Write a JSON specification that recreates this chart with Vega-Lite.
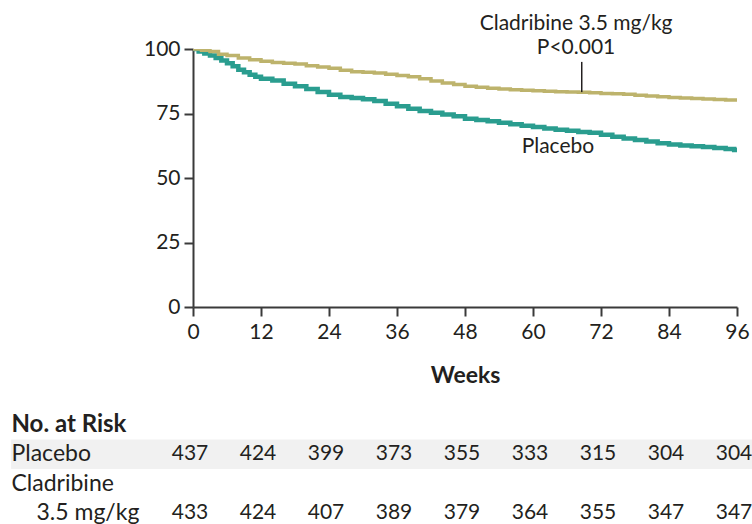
{
  "$schema": "https://vega.github.io/schema/vega-lite/v6.json",
  "background": "white",
  "padding": {"left": 11, "top": 13, "right": 0, "bottom": 0},
  "bounds": "flush",
  "spacing": 103,
  "config": {"font": "Lato", "view": {"stroke": null}},
  "datasets": {
    "curves": [
      {"group": "Placebo", "week": 0, "surv": 100},
      {"group": "Placebo", "week": 1, "surv": 99},
      {"group": "Placebo", "week": 2, "surv": 98.3},
      {"group": "Placebo", "week": 3, "surv": 97.5},
      {"group": "Placebo", "week": 4, "surv": 96.5},
      {"group": "Placebo", "week": 5, "surv": 95.5},
      {"group": "Placebo", "week": 6, "surv": 94.5},
      {"group": "Placebo", "week": 7, "surv": 93.3},
      {"group": "Placebo", "week": 8, "surv": 92},
      {"group": "Placebo", "week": 9, "surv": 91},
      {"group": "Placebo", "week": 10, "surv": 90},
      {"group": "Placebo", "week": 11, "surv": 89.2},
      {"group": "Placebo", "week": 12, "surv": 88.5},
      {"group": "Placebo", "week": 14, "surv": 87.8},
      {"group": "Placebo", "week": 16, "surv": 86.5},
      {"group": "Placebo", "week": 18, "surv": 85.6},
      {"group": "Placebo", "week": 20, "surv": 84.5},
      {"group": "Placebo", "week": 22, "surv": 83.3},
      {"group": "Placebo", "week": 24, "surv": 82.3},
      {"group": "Placebo", "week": 26, "surv": 81.4},
      {"group": "Placebo", "week": 28, "surv": 81},
      {"group": "Placebo", "week": 30, "surv": 80.5},
      {"group": "Placebo", "week": 32, "surv": 79.8},
      {"group": "Placebo", "week": 34, "surv": 78.8},
      {"group": "Placebo", "week": 36, "surv": 77.8},
      {"group": "Placebo", "week": 38, "surv": 76.8},
      {"group": "Placebo", "week": 40, "surv": 76},
      {"group": "Placebo", "week": 42, "surv": 75.3},
      {"group": "Placebo", "week": 44, "surv": 74.6},
      {"group": "Placebo", "week": 46, "surv": 73.9},
      {"group": "Placebo", "week": 48, "surv": 73},
      {"group": "Placebo", "week": 50, "surv": 72.5},
      {"group": "Placebo", "week": 52, "surv": 72},
      {"group": "Placebo", "week": 54, "surv": 71.4},
      {"group": "Placebo", "week": 56, "surv": 70.8},
      {"group": "Placebo", "week": 58, "surv": 70.3},
      {"group": "Placebo", "week": 60, "surv": 69.8},
      {"group": "Placebo", "week": 62, "surv": 69.2},
      {"group": "Placebo", "week": 64, "surv": 68.7},
      {"group": "Placebo", "week": 66, "surv": 68.3},
      {"group": "Placebo", "week": 68, "surv": 67.8},
      {"group": "Placebo", "week": 70, "surv": 67.5},
      {"group": "Placebo", "week": 72, "surv": 66.8},
      {"group": "Placebo", "week": 74, "surv": 66},
      {"group": "Placebo", "week": 76, "surv": 65.3},
      {"group": "Placebo", "week": 78, "surv": 64.7},
      {"group": "Placebo", "week": 80, "surv": 64.1},
      {"group": "Placebo", "week": 82, "surv": 63.5},
      {"group": "Placebo", "week": 84, "surv": 63},
      {"group": "Placebo", "week": 86, "surv": 62.6},
      {"group": "Placebo", "week": 88, "surv": 62.3},
      {"group": "Placebo", "week": 90, "surv": 62},
      {"group": "Placebo", "week": 92, "surv": 61.6},
      {"group": "Placebo", "week": 94, "surv": 61.2},
      {"group": "Placebo", "week": 95.5, "surv": 60.9},
      {"group": "Placebo", "week": 96, "surv": 60.9},
      {"group": "Cladribine", "week": 0, "surv": 100},
      {"group": "Cladribine", "week": 1.5, "surv": 99.5},
      {"group": "Cladribine", "week": 3, "surv": 99},
      {"group": "Cladribine", "week": 4.5, "surv": 98},
      {"group": "Cladribine", "week": 6, "surv": 97.5},
      {"group": "Cladribine", "week": 8, "surv": 96.5},
      {"group": "Cladribine", "week": 10, "surv": 95.8},
      {"group": "Cladribine", "week": 12, "surv": 95.3},
      {"group": "Cladribine", "week": 14, "surv": 94.8},
      {"group": "Cladribine", "week": 16, "surv": 94.5},
      {"group": "Cladribine", "week": 18, "surv": 94.2},
      {"group": "Cladribine", "week": 20, "surv": 93.5},
      {"group": "Cladribine", "week": 22, "surv": 93},
      {"group": "Cladribine", "week": 24, "surv": 92.5},
      {"group": "Cladribine", "week": 26, "surv": 91.8},
      {"group": "Cladribine", "week": 28, "surv": 91.2},
      {"group": "Cladribine", "week": 30, "surv": 91},
      {"group": "Cladribine", "week": 32, "surv": 90.7},
      {"group": "Cladribine", "week": 34, "surv": 90.2},
      {"group": "Cladribine", "week": 36, "surv": 89.7},
      {"group": "Cladribine", "week": 38, "surv": 89.2},
      {"group": "Cladribine", "week": 40, "surv": 88.5},
      {"group": "Cladribine", "week": 42, "surv": 87.6},
      {"group": "Cladribine", "week": 44, "surv": 86.8},
      {"group": "Cladribine", "week": 46, "surv": 86.2},
      {"group": "Cladribine", "week": 48, "surv": 85.6},
      {"group": "Cladribine", "week": 50, "surv": 85.2},
      {"group": "Cladribine", "week": 52, "surv": 84.8},
      {"group": "Cladribine", "week": 54, "surv": 84.5},
      {"group": "Cladribine", "week": 56, "surv": 84.2},
      {"group": "Cladribine", "week": 58, "surv": 84},
      {"group": "Cladribine", "week": 60, "surv": 83.8},
      {"group": "Cladribine", "week": 62, "surv": 83.6},
      {"group": "Cladribine", "week": 64, "surv": 83.4},
      {"group": "Cladribine", "week": 66, "surv": 83.3},
      {"group": "Cladribine", "week": 68, "surv": 83.2},
      {"group": "Cladribine", "week": 70, "surv": 83},
      {"group": "Cladribine", "week": 72, "surv": 82.8},
      {"group": "Cladribine", "week": 74, "surv": 82.7},
      {"group": "Cladribine", "week": 76, "surv": 82.5},
      {"group": "Cladribine", "week": 78, "surv": 82.1},
      {"group": "Cladribine", "week": 80, "surv": 81.8},
      {"group": "Cladribine", "week": 82, "surv": 81.5},
      {"group": "Cladribine", "week": 84, "surv": 81.2},
      {"group": "Cladribine", "week": 86, "surv": 81},
      {"group": "Cladribine", "week": 88, "surv": 80.8},
      {"group": "Cladribine", "week": 90, "surv": 80.6},
      {"group": "Cladribine", "week": 92, "surv": 80.4},
      {"group": "Cladribine", "week": 94, "surv": 80.2},
      {"group": "Cladribine", "week": 96, "surv": 80.2}
    ],
    "labels": [
      {"label": "Cladribine 3.5 mg/kg", "week": 67.6, "surv": 109.6},
      {"label": "P<0.001", "week": 67.6, "surv": 100.4},
      {"label": "Placebo", "week": 64.4, "surv": 62}
    ],
    "leader": [
      {"week": 68.6, "top": 95, "bottom": 83.3}
    ],
    "risk": [
      {"row": "Placebo", "week": 0, "n": 437},
      {"row": "Placebo", "week": 12, "n": 424},
      {"row": "Placebo", "week": 24, "n": 399},
      {"row": "Placebo", "week": 36, "n": 373},
      {"row": "Placebo", "week": 48, "n": 355},
      {"row": "Placebo", "week": 60, "n": 333},
      {"row": "Placebo", "week": 72, "n": 315},
      {"row": "Placebo", "week": 84, "n": 304},
      {"row": "Placebo", "week": 96, "n": 304},
      {"row": "3.5 mg/kg", "week": 0, "n": 433},
      {"row": "3.5 mg/kg", "week": 12, "n": 424},
      {"row": "3.5 mg/kg", "week": 24, "n": 407},
      {"row": "3.5 mg/kg", "week": 36, "n": 389},
      {"row": "3.5 mg/kg", "week": 48, "n": 379},
      {"row": "3.5 mg/kg", "week": 60, "n": 364},
      {"row": "3.5 mg/kg", "week": 72, "n": 355},
      {"row": "3.5 mg/kg", "week": 84, "n": 347},
      {"row": "3.5 mg/kg", "week": 96, "n": 347}
    ],
    "band": [
      {"row": "Placebo", "from": -32.1, "to": 98.65}
    ]
  },
  "vconcat": [
    {
      "width": 544,
      "height": 258,
      "encoding": {
        "x": {
          "field": "week", "type": "quantitative",
          "scale": {"domain": [0, 96], "nice": false, "zero": false},
          "axis": {
            "values": [0, 12, 24, 36, 48, 60, 72, 84, 96],
            "title": "Weeks", "titleFontSize": 23, "titleFontWeight": "bold", "titleColor": "#231f20", "titlePadding": 22,
            "labelFontSize": 21, "labelColor": "#231f20", "labelPadding": 5, "labelFlush": false, "labelOverlap": false,
            "tickSize": 9, "tickWidth": 2, "tickColor": "#3a3a3a",
            "domainColor": "#3a3a3a", "domainWidth": 2, "grid": false
          }
        },
        "y": {
          "field": "surv", "type": "quantitative",
          "scale": {"domain": [0, 100], "nice": false},
          "axis": {
            "values": [0, 25, 50, 75, 100], "title": null,
            "labelFontSize": 21, "labelColor": "#231f20", "labelPadding": 4,
            "tickSize": 9, "tickWidth": 2, "tickColor": "#3a3a3a",
            "domainColor": "#3a3a3a", "domainWidth": 2, "grid": false
          }
        }
      },
      "layer": [
        {
          "data": {"name": "curves"},
          "transform": [{"filter": "datum.group == 'Placebo'"}],
          "mark": {"type": "line", "interpolate": "step-after", "color": "#2a9d8f", "strokeWidth": 4.5, "clip": true}
        },
        {
          "data": {"name": "curves"},
          "transform": [{"filter": "datum.group == 'Cladribine'"}],
          "mark": {"type": "line", "interpolate": "step-after", "color": "#bdb36c", "strokeWidth": 3.5, "clip": true}
        },
        {
          "data": {"name": "leader"},
          "mark": {"type": "rule", "color": "#231f20", "strokeWidth": 1.5},
          "encoding": {
            "y": {"field": "top", "type": "quantitative"},
            "y2": {"field": "bottom"}
          }
        },
        {
          "data": {"name": "labels"},
          "mark": {"type": "text", "fontSize": 21, "color": "#231f20", "align": "center", "baseline": "middle"},
          "encoding": {"text": {"field": "label"}}
        }
      ]
    },
    {
      "width": 544,
      "height": 118,
      "encoding": {
        "y": {
          "field": "row", "type": "nominal",
          "scale": {"domain": ["No. at Risk", "Placebo", "Cladribine", "3.5 mg/kg"], "paddingInner": 0, "paddingOuter": 0},
          "axis": {
            "title": null, "domain": false, "ticks": false,
            "labelAlign": "left",
            "labelPadding": {"expr": "datum.value == '3.5 mg/kg' ? 157 : 182"},
            "labelFontSize": {"expr": "datum.value == 'No. at Risk' ? 24 : 23"},
            "labelFontWeight": {"expr": "datum.value == 'No. at Risk' ? 'bold' : 'normal'"},
            "labelColor": "#231f20"
          }
        }
      },
      "layer": [
        {
          "data": {"name": "band"},
          "mark": {"type": "rect", "color": "#f1f1f1"},
          "encoding": {
            "x": {"field": "from", "type": "quantitative", "scale": {"domain": [0, 96], "nice": false, "zero": false}, "axis": null},
            "x2": {"field": "to"}
          }
        },
        {
          "data": {"name": "risk"},
          "mark": {"type": "text", "fontSize": 21, "color": "#231f20", "align": "center", "baseline": "middle", "dx": -3},
          "encoding": {
            "x": {"field": "week", "type": "quantitative", "scale": {"domain": [0, 96], "nice": false, "zero": false}, "axis": null},
            "text": {"field": "n"}
          }
        }
      ]
    }
  ]
}
